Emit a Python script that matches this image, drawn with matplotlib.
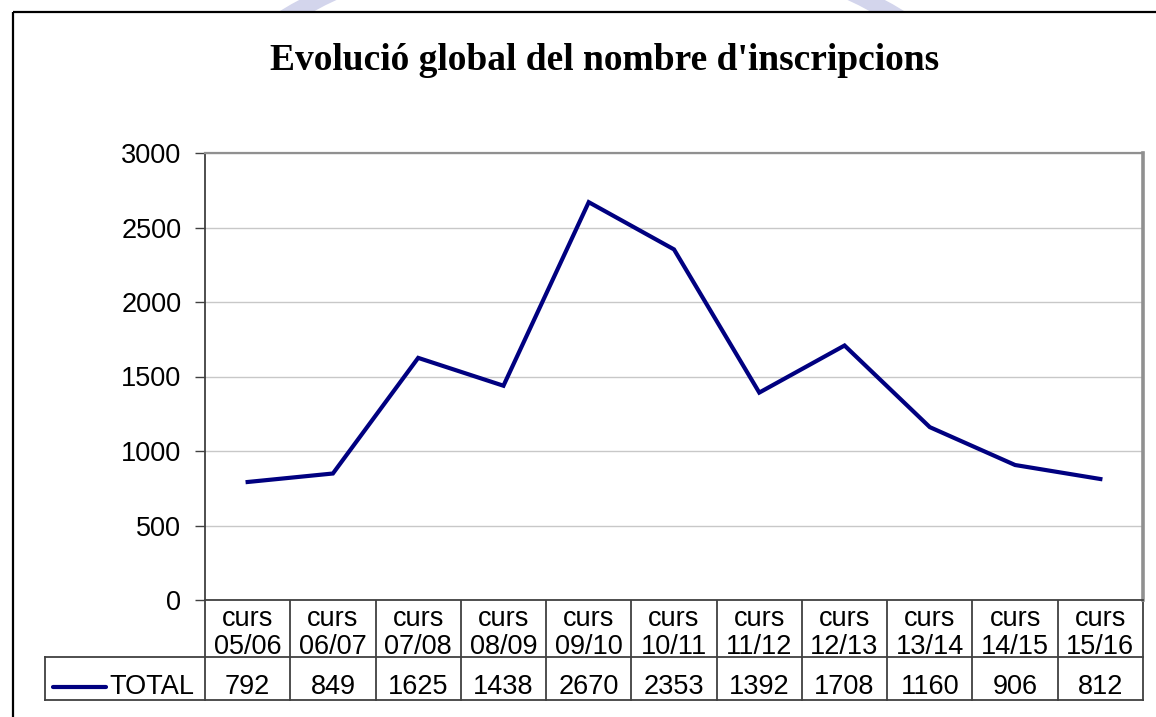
import numpy as np
import matplotlib.pyplot as plt
from matplotlib.patches import Wedge, Rectangle
from matplotlib.transforms import blended_transform_factory

# data
cursos = ['05/06', '06/07', '07/08', '08/09', '09/10', '10/11',
          '11/12', '12/13', '13/14', '14/15', '15/16']
total = [792, 849, 1625, 1438, 2670, 2353, 1392, 1708, 1160, 906, 812]
yticks = [0, 500, 1000, 1500, 2000, 2500, 3000]

W, H = 1156, 717
fig = plt.figure(figsize=(W / 100, H / 100), dpi=100)
fig.patch.set_facecolor('white')

# overlay in pixel coordinates (frame, watermark, table)
ov = fig.add_axes([0, 0, 1, 1], zorder=0)
ov.set_xlim(0, W)
ov.set_ylim(H, 0)
ov.axis('off')

# faint watermark ring peeking above the frame
ring = Wedge((592, 535), 610, 0, 360, width=17, facecolor='#d3d5ec',
             edgecolor='none', zorder=1)
ov.add_patch(ring)
ov.add_patch(Rectangle((0, 12), W, H, facecolor='white', edgecolor='none', zorder=2))
ov.plot([13, 13], [H, 12], color='black', lw=1.6, zorder=3, solid_capstyle='butt')
ov.plot([13, W], [12, 12], color='black', lw=1.6, zorder=3, solid_capstyle='butt')

ov.text(605, 60, "Evolució global del nombre d'inscripcions", ha='center', va='center',
        fontsize=27, fontweight='bold', family='Liberation Serif', zorder=4)

fs = 19.5

# main plot area
left, right, top, bottom = 205, 1143, 153, 600
ax = fig.add_axes([left / W, (H - bottom) / H, (right - left) / W, (bottom - top) / H], zorder=5)
x = np.arange(len(cursos))
ax.plot(x, total, color='#000080', lw=3, solid_joinstyle='miter', zorder=3)
ax.set_xlim(-0.5, len(cursos) - 0.5)
ax.set_ylim(0, 3000)
ax.set_yticks(yticks)
ax.set_yticklabels([str(v) for v in yticks], fontsize=fs, family='Liberation Sans')
ax.tick_params(axis='y', length=7, width=1, color='#404040', pad=10)
ax.set_xticks([])
ax.grid(axis='y', color='#c8c8c8', lw=1)
ax.set_axisbelow(True)
for s in ['left', 'bottom']:
    ax.spines[s].set_color('#404040')
    ax.spines[s].set_linewidth(1.3)
ax.spines['top'].set_color('#909090')
ax.spines['top'].set_linewidth(1.6)
ax.spines['right'].set_color('#909090')
ax.spines['right'].set_linewidth(2.6)

# data table under the axis
tr = blended_transform_factory(ax.transData, ov.transData)
lc = '#404040'
row1, row2 = 657, 700
for k in range(len(cursos) + 1):
    ov.plot([k - 0.5, k - 0.5], [bottom, row2], color=lc, lw=1.3, transform=tr, zorder=6)
for yy in [row1, row2]:
    ov.plot([45, right], [yy, yy], color=lc, lw=1.3, zorder=6)
ov.plot([45, 45], [row1, row2], color=lc, lw=1.3, zorder=6)
for i, (c, v) in enumerate(zip(cursos, total)):
    ov.text(i, 633, 'curs\n' + c, ha='center', va='center', fontsize=fs,
            family='Liberation Sans', linespacing=1.1, transform=tr, zorder=7)
    ov.text(i, 687, str(v), ha='center', va='center', fontsize=fs,
            family='Liberation Sans', transform=tr, zorder=7)

ov.plot([53, 106], [687, 687], color='#000080', lw=3, solid_capstyle='round', zorder=7)
ov.text(109, 687, 'TOTAL', ha='left', va='center', fontsize=fs,
        family='Liberation Sans', zorder=7)

fig.savefig('out.png', dpi=100, facecolor='white')
